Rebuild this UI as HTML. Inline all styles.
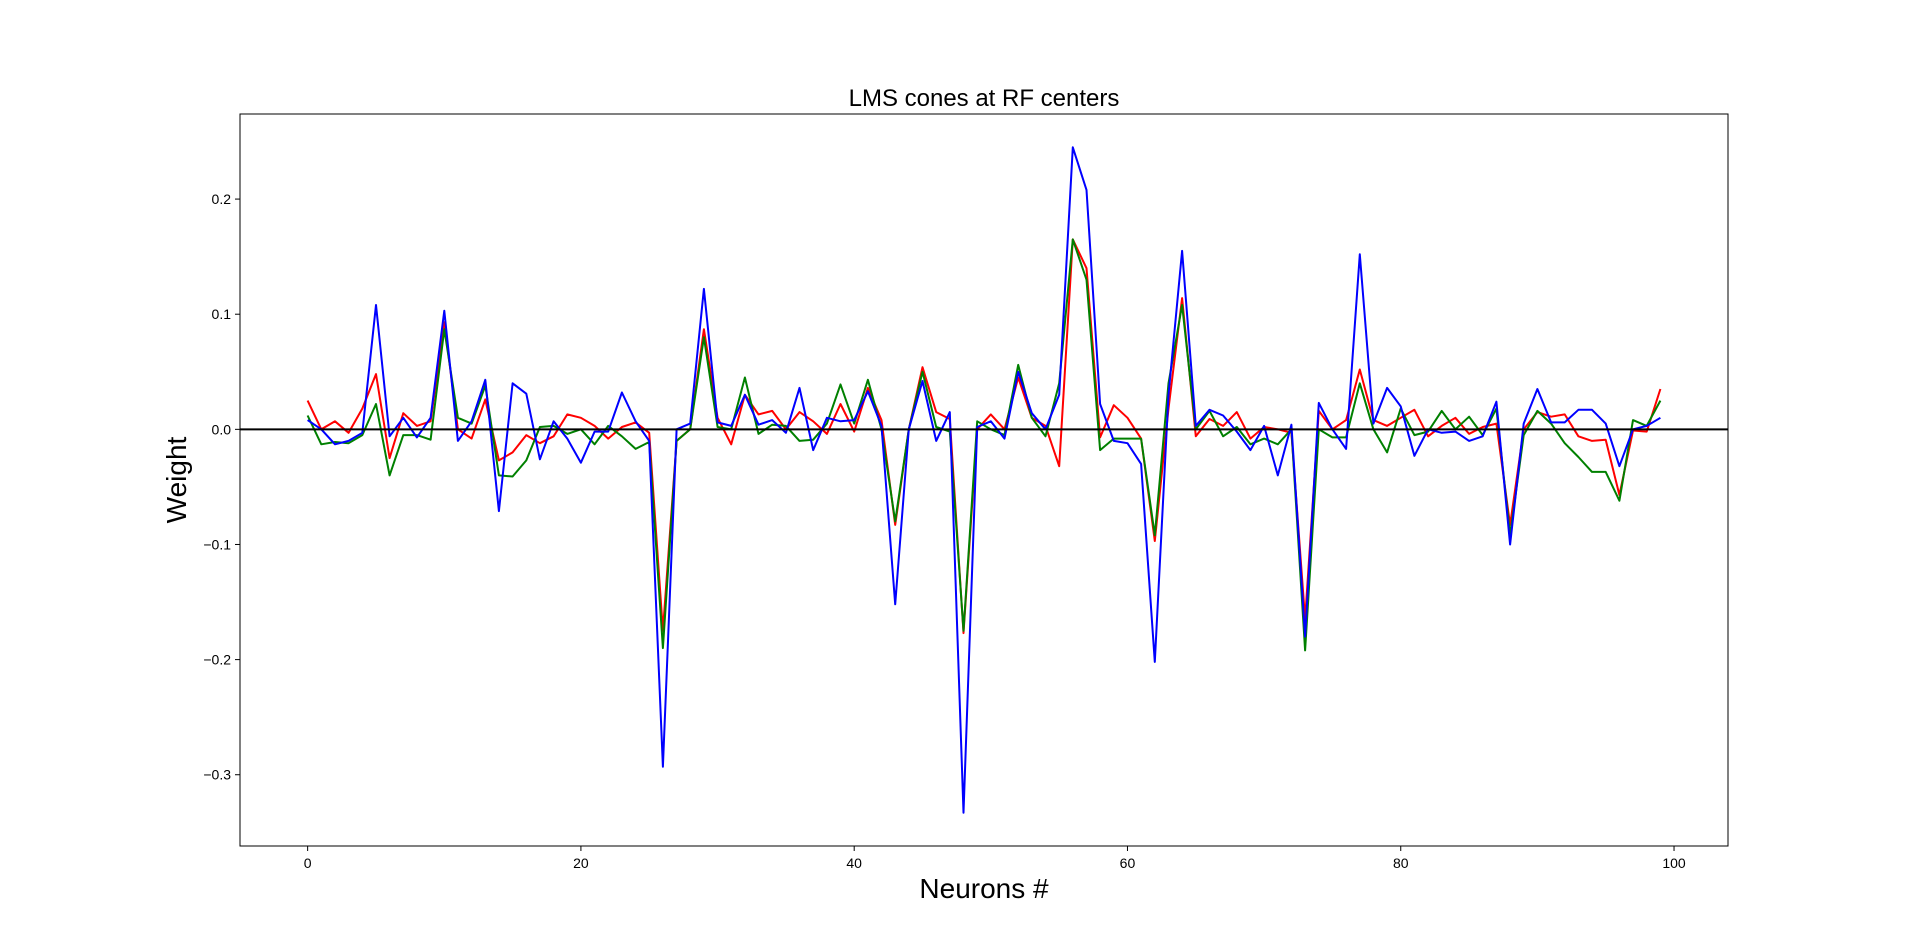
<!DOCTYPE html>
<html><head><meta charset="utf-8"><style>
body{margin:0;background:#fff;}
svg{display:block;font-family:"Liberation Sans","DejaVu Sans",sans-serif;}
</style></head><body>
<svg id="chart" width="1920" height="951">
<rect width="1920" height="951" fill="#fff"/>
<text x="984" y="106" text-anchor="middle" font-size="24">LMS cones at RF centers</text>
<text x="984" y="898" text-anchor="middle" font-size="28">Neurons #</text>
<text transform="translate(186,480) rotate(-90)" text-anchor="middle" font-size="28">Weight</text>
<g id="plot"></g>
</svg>
<script>
const neurons = Array.from({length:100},(_,i)=>i);
const lCone = [0.025,0,0.007,-0.003,0.018,0.048,-0.025,0.014,0.003,0.007,0.093,0,-0.008,0.026,-0.027,-0.02,-0.005,-0.012,-0.006,0.013,0.01,0.003,-0.008,0.002,0.006,-0.003,-0.175,-0.01,0,0.087,0.01,-0.013,0.03,0.013,0.016,0,0.015,0.007,-0.004,0.022,-0.002,0.036,0.008,-0.083,0,0.054,0.015,0.009,-0.177,0,0.013,0,0.045,0.01,0.003,-0.032,0.165,0.14,-0.007,0.021,0.01,-0.008,-0.097,0.018,0.114,-0.006,0.009,0.003,0.015,-0.008,0.002,0,-0.003,-0.165,0.016,0,0.008,0.052,0.008,0.003,0.01,0.017,-0.006,0.003,0.01,-0.004,0.002,0.005,-0.083,0,0.015,0.011,0.013,-0.006,-0.01,-0.009,-0.057,-0.001,-0.002,0.035];
const mCone = [0.012,-0.013,-0.011,-0.012,-0.005,0.022,-0.04,-0.005,-0.005,-0.009,0.087,0.01,0.005,0.038,-0.04,-0.041,-0.027,0.002,0.003,-0.004,0,-0.013,0.003,-0.006,-0.017,-0.011,-0.19,-0.01,0,0.08,0.002,0,0.045,-0.004,0.004,0.003,-0.01,-0.009,0.005,0.039,0.005,0.043,0,-0.08,0,0.05,0.002,-0.002,-0.175,0.007,0,-0.005,0.056,0.01,-0.006,0.04,0.165,0.13,-0.018,-0.008,-0.008,-0.008,-0.092,0.04,0.108,0,0.016,-0.006,0.002,-0.013,-0.008,-0.013,0,-0.192,0,-0.007,-0.007,0.04,0,-0.02,0.018,-0.005,-0.002,0.016,0,0.011,-0.005,0.018,-0.092,-0.005,0.016,0.005,-0.012,-0.024,-0.037,-0.037,-0.062,0.008,0.003,0.025];
const sCone = [0.008,0,-0.013,-0.01,-0.003,0.108,-0.006,0.01,-0.007,0.01,0.103,-0.01,0.007,0.043,-0.071,0.04,0.031,-0.026,0.007,-0.008,-0.029,-0.002,-0.002,0.032,0.007,-0.01,-0.293,0,0.005,0.122,0.006,0.003,0.03,0.004,0.008,-0.003,0.036,-0.018,0.01,0.007,0.008,0.033,0.003,-0.152,0,0.042,-0.01,0.015,-0.333,0.002,0.007,-0.008,0.05,0.014,0,0.03,0.245,0.208,0.022,-0.01,-0.012,-0.03,-0.202,0.03,0.155,0.003,0.017,0.012,-0.002,-0.018,0.003,-0.04,0.004,-0.18,0.023,0,-0.017,0.152,0.005,0.036,0.02,-0.023,0,-0.003,-0.002,-0.01,-0.006,0.024,-0.1,0.005,0.035,0.006,0.006,0.017,0.017,0.005,-0.032,0,0.003,0.01];
const xTicks = [0,20,40,60,80,100];
const yTicks = [-0.3,-0.2,-0.1,0.0,0.1,0.2];

const L=240,R=1728,T=114,B=846;
const all=[...lCone,...mCone,...sCone];
const ymin0=Math.min(...all),ymax0=Math.max(...all),pad=(ymax0-ymin0)*0.05;
const ymin=ymin0-pad,ymax=ymax0+pad;
const xmin=-(neurons.length-1)*0.05,xmax=(neurons.length-1)*1.05;
const sx=v=>L+(v-xmin)/(xmax-xmin)*(R-L);
const sy=v=>B-(v-ymin)/(ymax-ymin)*(B-T);
const NS='http://www.w3.org/2000/svg';
const g=document.getElementById('plot');
function mk(t,a){const e=document.createElementNS(NS,t);for(const k in a)e.setAttribute(k,a[k]);g.appendChild(e);return e;}

const series=[[lCone,'#ff0000','l-cone-line'],[mCone,'#008000','m-cone-line'],[sCone,'#0000ff','s-cone-line']];
for(const [d,c,n] of series){
  const p=mk('polyline',{points:d.map((v,i)=>sx(neurons[i]).toFixed(1)+','+sy(v).toFixed(1)).join(' '),fill:'none',stroke:c,'stroke-width':2,'stroke-linejoin':'round'});
  
  
}
const z=mk('line',{x1:L,x2:R,y1:sy(0),y2:sy(0),stroke:'#000','stroke-width':2});



for(const t of xTicks){
  const x=sx(t);
  mk('line',{x1:x,x2:x,y1:B,y2:B+5,stroke:'#000','stroke-width':1});
  const tx=mk('text',{x:x,y:B+22,'text-anchor':'middle','font-size':14});
  tx.textContent=t;
  
  
}
for(const t of yTicks){
  const y=sy(t);
  mk('line',{x1:L-5,x2:L,y1:y,y2:y,stroke:'#000','stroke-width':1});
  const tx=mk('text',{x:L-9,y:y+5,'text-anchor':'end','font-size':14});
  tx.textContent=t.toFixed(1).replace('-','\u2212');
  
  
}
const fr=mk('rect',{x:L,y:T,width:R-L,height:B-T,fill:'none',stroke:'#000','stroke-width':1});


</script>
</body></html>
